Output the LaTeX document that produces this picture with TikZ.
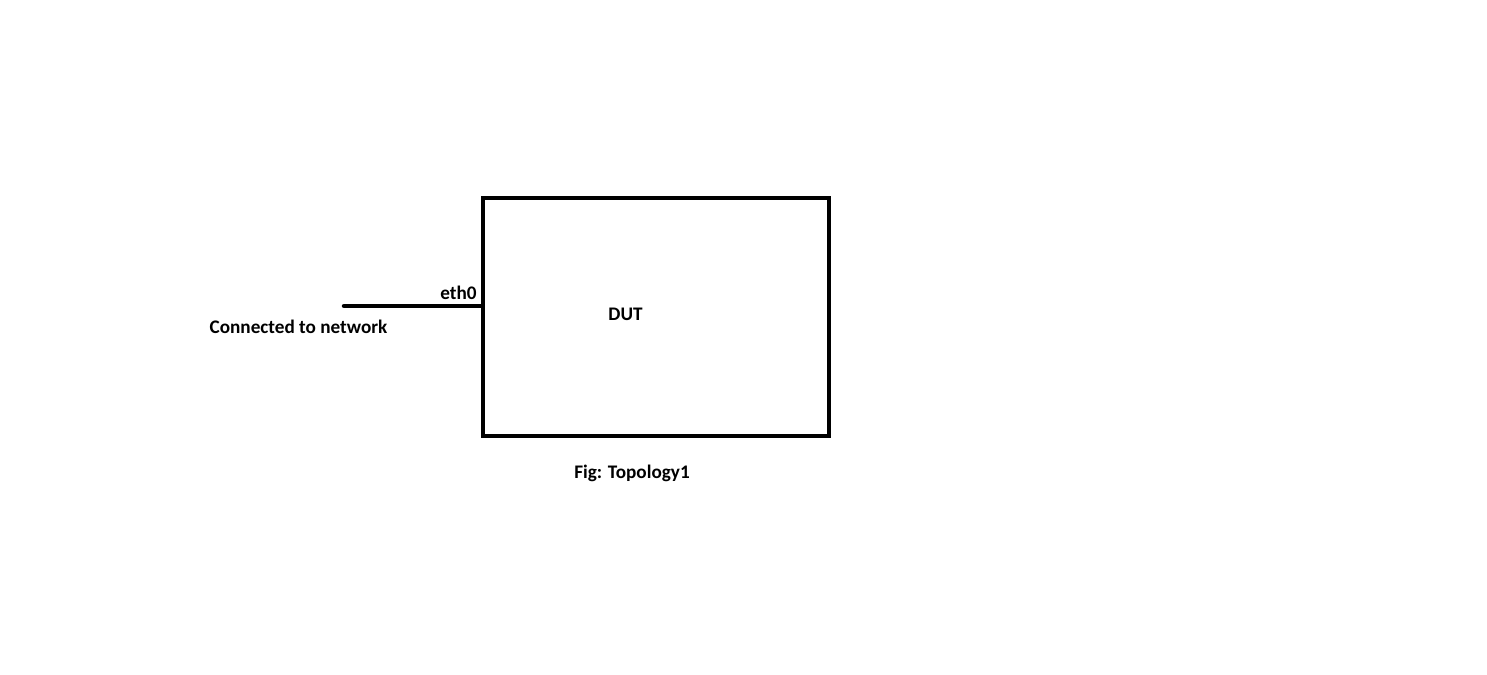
\documentclass[tikz,border=0pt]{standalone}
\usepackage{fontspec}
\setmainfont{Carlito}
\usetikzlibrary{positioning, calc}

\tikzset{
  devbox/.style={draw, line width=4pt, minimum width=346pt, minimum height=238pt, inner sep=0pt},
  lbl/.style={font=\fontsize{19.2}{22}\selectfont\bfseries, anchor=base, inner sep=0pt},
}

\begin{document}
\begin{tikzpicture}[x=1pt, y=-1pt]
\useasboundingbox (0,0) rectangle (1487,674);

% Device under test
\node[devbox] (dut) at (656,317) {};
\node[lbl] (dutlbl) at (625.5,320) {DUT};

% Network link
\coordinate (net) at (344,306);
\draw[line width=4.5pt, line cap=round] (net) -- (net -| dut.west);
\node[lbl] (eth) at (458.5,299) {eth0};
\node[lbl] (netlbl) at (298.5,333) {Connected to network};

% Caption
\node[lbl] (caption) at (632,478) {Fig: Topology1};
\end{tikzpicture}
\end{document}
